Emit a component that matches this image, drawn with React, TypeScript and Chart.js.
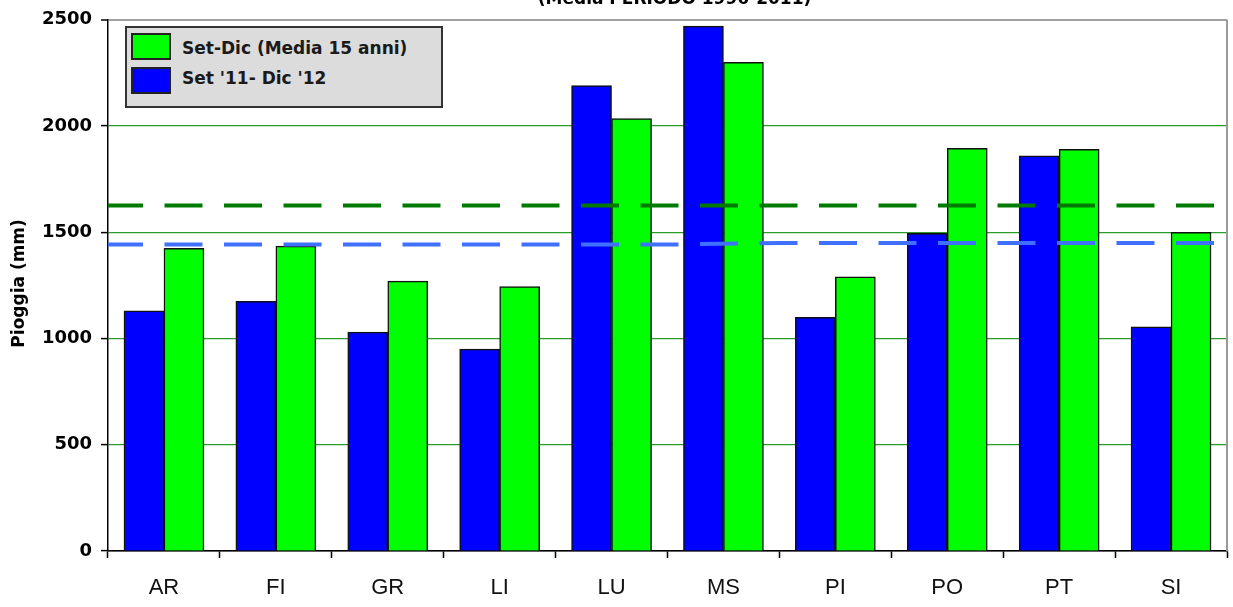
import React, { useEffect, useRef } from 'react';
import { Chart, registerables } from 'chart.js';

Chart.register(...registerables);

const categories = ['AR', 'FI', 'GR', 'LI', 'LU', 'MS', 'PI', 'PO', 'PT', 'SI'];
const set11Dic12 = [1130, 1175, 1030, 950, 2190, 2470, 1100, 1495, 1860, 1055];
const media15Anni = [1425, 1435, 1270, 1245, 2035, 2300, 1290, 1895, 1890, 1500];
// average lines, read at the category boundaries (positions 0..10 across the plot)
const boundaryPositions = [0, 1, 2, 3, 4, 5, 6, 7, 8, 9, 10];
const lineaMediaSet11 = [1442, 1442, 1442, 1442, 1442, 1442, 1450, 1450, 1450, 1450, 1450];
const lineaMedia15 = [1626, 1626, 1626, 1626, 1626, 1626, 1626, 1626, 1626, 1626, 1626];
const yMin = 0;
const yMax = 2500;
const yStep = 500;
const titleText = '(Media PERIODO 1996-2011)';
const yTitle = 'Pioggia (mm)';
const legendLabels = ['Set-Dic (Media 15 anni)', "Set '11- Dic '12"];

const BLUE = '#0000ff';
const GREEN = '#00ff00';
const DARK_GREEN = '#007a00';
const LIGHT_BLUE = '#4070ff';
const GROUP_FRACTION = 0.715; // share of each category taken by the pair of bars

const toPoints = (ys: number[]) => ys.map((y, i) => ({ x: boundaryPositions[i], y }));

const barThickness = (ctx: any) => {
  const s = ctx.chart && ctx.chart.scales && ctx.chart.scales.x;
  return s && s.width ? (s.width / categories.length) * GROUP_FRACTION / 2 : 40;
};

const customDraw = {
  id: 'customDraw',
  afterDraw(chart: any) {
    const { ctx, chartArea } = chart;
    ctx.save();
    ctx.strokeStyle = '#9a9a9a';
    ctx.lineWidth = 2;
    ctx.beginPath();
    ctx.moveTo(chartArea.right, chartArea.top);
    ctx.lineTo(chartArea.right, chartArea.bottom);
    ctx.stroke();
    ctx.fillStyle = '#000';
    ctx.font = 'bold 17px "DejaVu Sans"';
    ctx.textAlign = 'center';
    ctx.textBaseline = 'alphabetic';
    ctx.fillText(titleText, (chartArea.left + chartArea.right) / 2 + 7, 3.5);
    ctx.translate(19.5, (chartArea.top + chartArea.bottom) / 2 - 2);
    ctx.rotate(-Math.PI / 2);
    ctx.font = 'bold 17px "DejaVu Sans"';
    ctx.textBaseline = 'middle';
    ctx.fillText(yTitle, 0, 0);
    ctx.restore();
  },
};

export default function App() {
  const canvasRef = useRef<HTMLCanvasElement | null>(null);

  useEffect(() => {
    const canvas = canvasRef.current;
    if (!canvas) return;
    const lineCommon = {
      type: 'line',
      xAxisID: 'x2',
      borderWidth: 4,
      borderDash: [38, 21.5],
      borderDashOffset: 3,
      borderCapStyle: 'butt',
      pointRadius: 0,
      fill: false,
      order: 0,
    };
    const barCommon = {
      borderColor: '#111',
      borderWidth: 1.5,
      xAxisID: 'x',
      order: 1,
      barThickness,
    };
    const chart = new Chart(canvas, {
      type: 'bar',
      data: {
        labels: categories,
        datasets: [
          { ...lineCommon, label: 'Media Set-Dic', data: toPoints(lineaMedia15), borderColor: DARK_GREEN } as any,
          { ...lineCommon, label: "Media Set '11", data: toPoints(lineaMediaSet11), borderColor: LIGHT_BLUE } as any,
          { ...barCommon, label: legendLabels[1], data: set11Dic12, backgroundColor: BLUE } as any,
          { ...barCommon, label: legendLabels[0], data: media15Anni, backgroundColor: GREEN } as any,
        ],
      },
      options: {
        animation: false,
        responsive: false,
        layout: { padding: { left: 0, top: 16, right: 6, bottom: 0 } },
        plugins: {
          legend: { display: false },
          tooltip: { enabled: false },
          title: { display: false },
        },
        scales: {
          x: {
            type: 'category',
            offset: true,
            grid: {
              offset: true,
              drawOnChartArea: false,
              drawTicks: true,
              tickLength: 7,
              tickColor: '#000',
              tickWidth: 1.5,
            },
            border: { display: true, color: '#000', width: 1.5 },
            ticks: {
              color: '#111',
              font: { family: '"Liberation Sans", Arial, sans-serif', size: 22 },
              padding: 17,
              maxRotation: 0,
              autoSkip: false,
            },
            afterFit: (scale: any) => {
              scale.height = 56;
            },
          },
          x2: {
            type: 'linear',
            min: boundaryPositions[0],
            max: boundaryPositions[boundaryPositions.length - 1],
            offset: false,
            display: false,
          },
          y: {
            min: yMin,
            max: yMax,
            ticks: {
              stepSize: yStep,
              color: '#000',
              font: { family: '"DejaVu Sans", sans-serif', size: 18, weight: 'bold' },
              padding: 9,
              callback: (v: any) => String(v),
            },
            grid: {
              color: (ctx: any) =>
                ctx.tick && ctx.tick.value === yMax ? '#a0a0a0' : ctx.tick && ctx.tick.value === yMin ? '#000' : '#2a9a2a',
              lineWidth: (ctx: any) => (ctx.tick && ctx.tick.value === yMax ? 2 : 1.2),
              drawTicks: true,
              tickLength: 7,
              tickColor: '#000',
              tickWidth: 1.5,
            },
            border: { display: true, color: '#000', width: 1.5 },
            afterFit: (scale: any) => {
              scale.width = 108;
            },
          },
        },
      } as any,
      plugins: [customDraw],
    });
    return () => chart.destroy();
  }, []);

  const swatch = (color: string, top: number): React.CSSProperties => ({
    position: 'absolute',
    left: 4,
    top,
    width: 40,
    height: 27,
    boxSizing: 'border-box',
    background: color,
    border: '2px solid #222',
  });
  const text = (top: number): React.CSSProperties => ({
    position: 'absolute',
    left: 55,
    top,
    lineHeight: '20px',
    font: 'bold 17px "DejaVu Sans", sans-serif',
    color: '#1a1a1a',
    whiteSpace: 'nowrap',
  });

  return (
    <div style={{ position: 'absolute', left: 0, top: 0, width: 1233, height: 607, background: '#fff' }}>
      <canvas ref={canvasRef} width={1233} height={607} style={{ display: 'block' }} />
      <div
        style={{
          position: 'absolute',
          left: 125,
          top: 26,
          width: 318,
          height: 82,
          boxSizing: 'border-box',
          background: '#dcdcdc',
          border: '2px solid #333',
        }}
      >
        <div style={swatch(GREEN, 5)} />
        <div style={text(10)}>{legendLabels[0]}</div>
        <div style={swatch(BLUE, 39)} />
        <div style={text(40)}>{legendLabels[1]}</div>
      </div>
    </div>
  );
}
